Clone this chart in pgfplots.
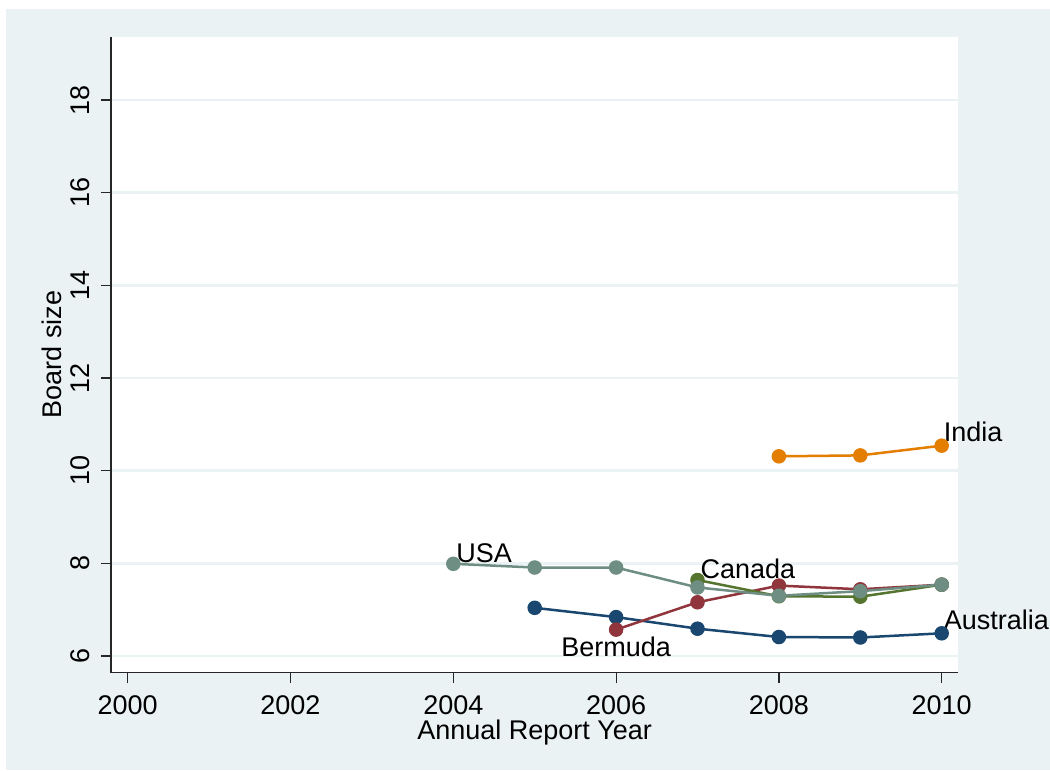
\documentclass[border=0pt]{standalone}
\usepackage{fontspec}
\setmainfont{Liberation Sans}
\usepackage{pgfplots}
\pgfplotsset{compat=1.18}

\definecolor{stbg}{RGB}{234,242,243}
\definecolor{stnavy}{RGB}{26,71,111}
\definecolor{stmaroon}{RGB}{144,53,59}
\definecolor{stgreen}{RGB}{85,117,47}
\definecolor{storange}{RGB}{227,126,0}
\definecolor{stteal}{RGB}{110,142,132}

\begin{document}
\fontsize{27bp}{32bp}\selectfont
\begin{tikzpicture}[x=1bp,y=1bp]
% page and Stata-like outer region
\fill[white] (-111,-98.3) rectangle (939,672.7);
\fill[stbg] (-105,-97.3) rectangle (939,663.7);
\begin{axis}[
    at={(0,0)}, anchor=south west,
    scale only axis, width=847.3bp, height=636bp,
    xmin=1999.795, xmax=2010.204,
    ymin=5.64, ymax=19.367,
    xtick={2000,2002,2004,2006,2008,2010},
    ytick={6,8,10,12,14,16,18},
    axis x line*=bottom, axis y line*=left,
    axis line style={-, line width=1.2bp, black!85},
    tick align=outside, major tick length=10bp,
    tick style={line width=1.2bp, black!85},
    ymajorgrids, grid style={line width=2.5bp, stbg},
    axis background/.style={fill=white},
    font=\fontsize{27bp}{32bp}\selectfont,
    /pgf/number format/assume math mode=true,
    /pgf/number format/1000 sep={},
    xticklabel style={anchor=north, inner sep=0pt},
    xticklabel shift=13bp,
    yticklabel style={rotate=90, anchor=south, inner sep=0pt},
    yticklabel shift=11bp,
    xlabel={Annual Report Year},
    xlabel style={at={(axis description cs:0.5,-0.1055)}, anchor=base, inner sep=0pt},
    ylabel={Board size},
    ylabel style={at={(axis description cs:-0.0584,0.5)}, anchor=base, inner sep=0pt},
    clip=false,
    every axis plot/.append style={line width=2.5bp, mark=*, mark size=6bp},
]
% Australia
\addplot[color=stnavy, mark options={fill=stnavy}] coordinates {
(2005,7.04)(2006,6.84)(2007,6.59)(2008,6.41)(2009,6.40)(2010,6.49)};
% Bermuda
\addplot[color=stmaroon, mark options={fill=stmaroon}] coordinates {
(2006,6.57)(2007,7.16)(2008,7.52)(2009,7.44)(2010,7.54)};
% Canada
\addplot[color=stgreen, mark options={fill=stgreen}] coordinates {
(2007,7.64)(2008,7.29)(2009,7.28)(2010,7.54)};
% India
\addplot[color=storange, mark options={fill=storange}] coordinates {
(2008,10.31)(2009,10.33)(2010,10.54)};
% USA
\addplot[color=stteal, mark options={fill=stteal}] coordinates {
(2004,7.99)(2005,7.91)(2006,7.91)(2007,7.48)(2008,7.30)(2009,7.40)(2010,7.54)};

\node[anchor=base west, inner sep=0pt, xshift=3bp, yshift=1bp] at (axis cs:2004,7.99) {USA};
\node[anchor=base west, inner sep=0pt, xshift=3bp, yshift=2bp] at (axis cs:2007,7.64) {Canada};
\node[anchor=north, inner sep=0pt, yshift=-7bp] at (axis cs:2006,6.57) {Bermuda};
\node[anchor=base west, inner sep=0pt, xshift=2bp, yshift=4bp] at (axis cs:2010,10.54) {India};
\node[anchor=base west, inner sep=0pt, xshift=2bp, yshift=4bp] at (axis cs:2010,6.49) {Australia};
\end{axis}
\pgfresetboundingbox
\path (-111,-98.3) rectangle (939,672.7);
\end{tikzpicture}
\end{document}
